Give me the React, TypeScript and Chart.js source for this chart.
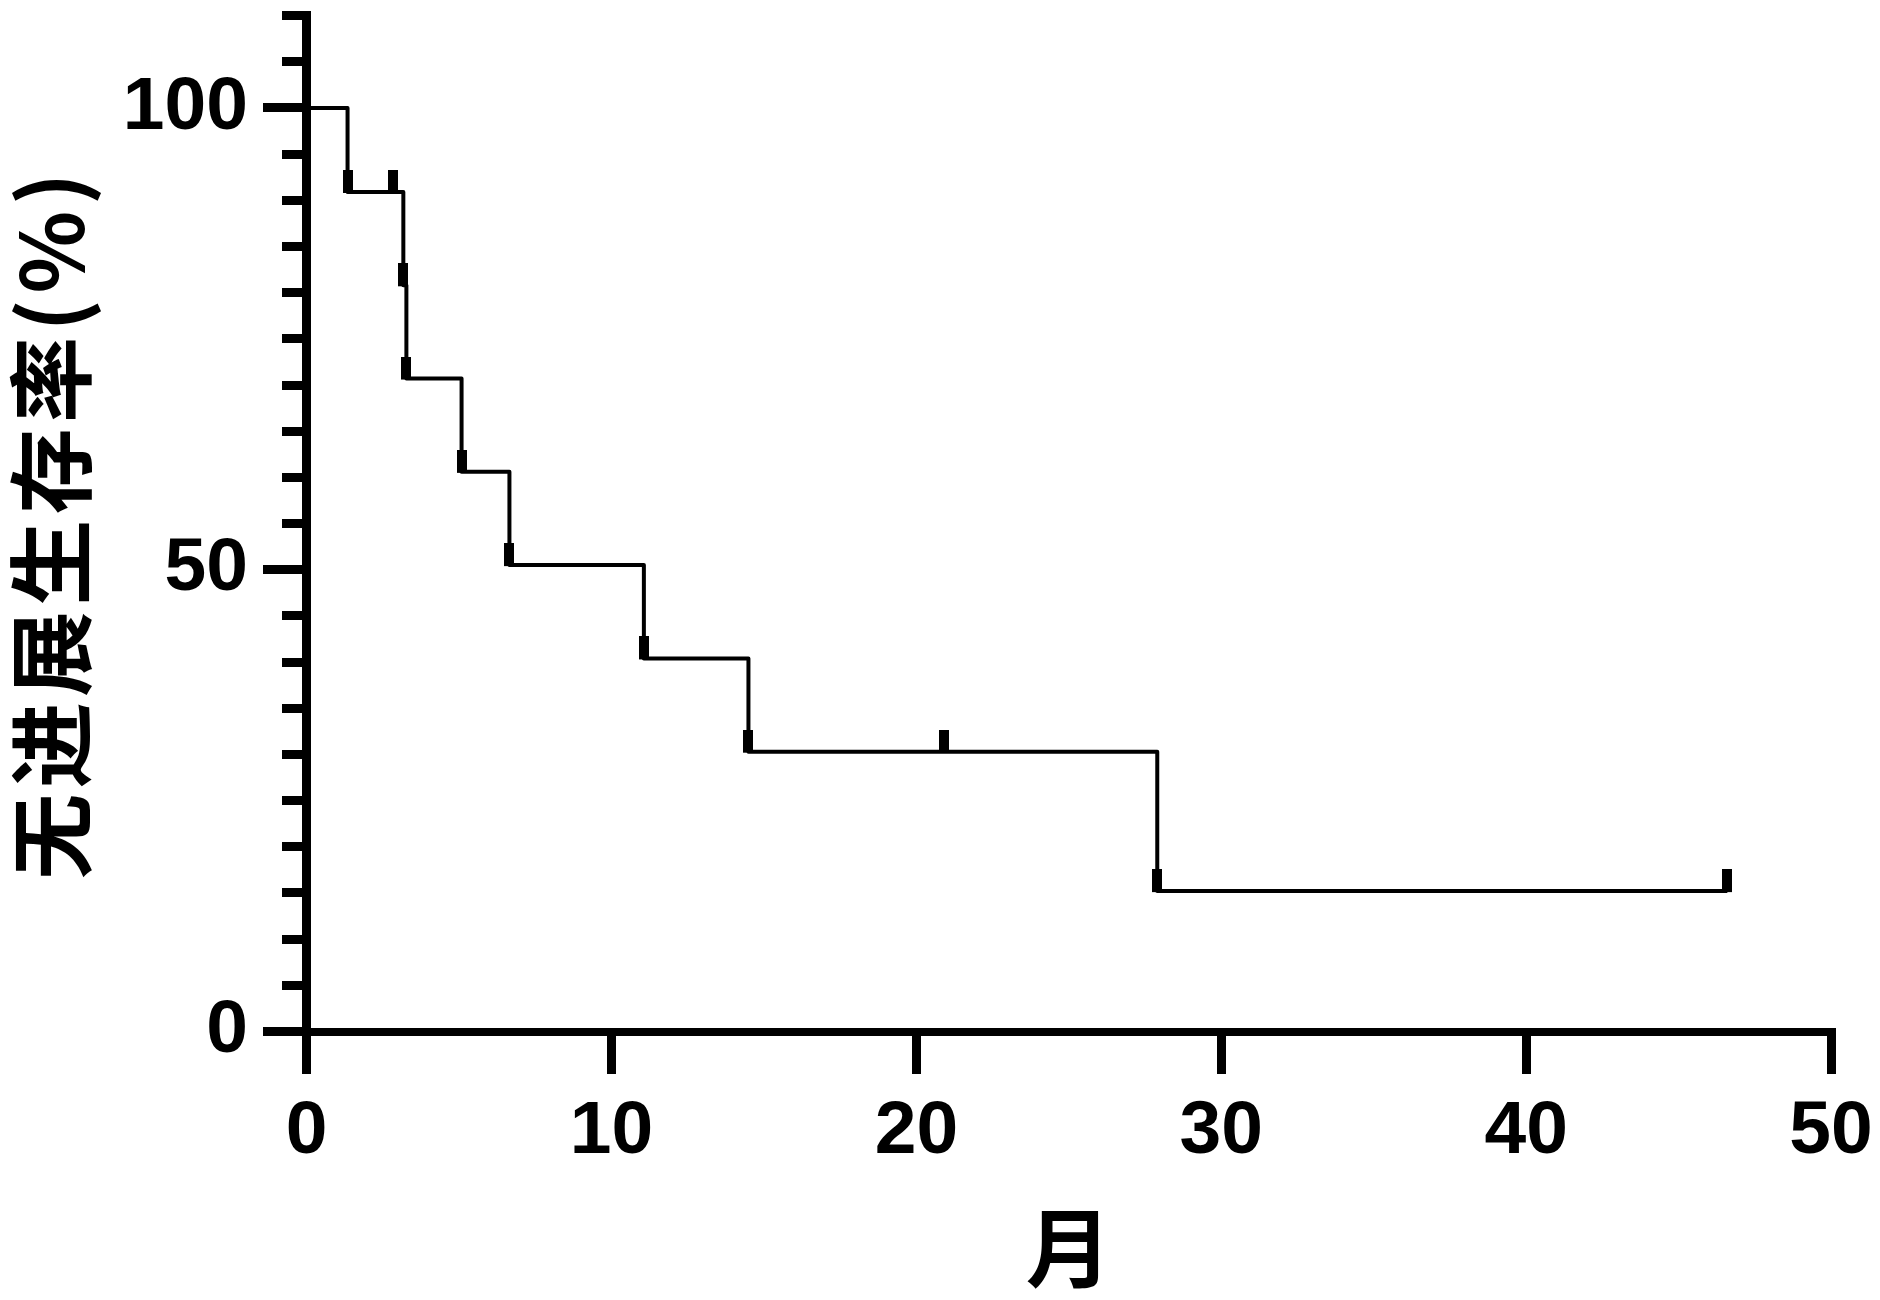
import React, { useEffect, useRef } from "react";
import { Chart, registerables } from "chart.js";

Chart.register(...registerables);

// Kaplan–Meier step curve (months, % progression-free)
const curveTimes = [0, 1.34, 3.17, 3.27, 5.08, 6.65, 11.06, 14.49, 27.9, 46.6];
const curveSurvival = [100, 90.9, 80.8, 70.7, 60.6, 50.5, 40.4, 30.3, 15.2, 15.2];

// tick marks (censor / event markers)
const markTimes = [1.34, 2.83, 3.17, 3.27, 5.08, 6.65, 11.06, 14.49, 20.9, 27.9, 46.6];
const markSurvival = [90.9, 90.9, 80.8, 70.7, 60.6, 50.5, 40.4, 30.3, 30.3, 15.2, 15.2];

const xMin = 0;
const xMax = 50;
const xStep = 10;
const yMin = 0;
const yMax = 110;
const yMajorStep = 50;
const yMinorStep = 5;

const xTitle = "月";
const yTitleChars = ["无", "进", "展", "生", "存", "率", "(", "%", ")"];

const W = 1880;
const H = 1300;

function makeTickMark(): HTMLCanvasElement {
  const c = document.createElement("canvas");
  c.width = 10;
  c.height = 44;
  const ctx = c.getContext("2d")!;
  ctx.fillStyle = "#000";
  ctx.fillRect(0, 0, 10, 23);
  return c;
}

export default function App() {
  const ref = useRef<HTMLCanvasElement | null>(null);

  useEffect(() => {
    if (!ref.current) return;
    const tickFont = { family: "'Liberation Sans', Arial, sans-serif", size: 75, weight: "bold" as const };
    const titleFont = { family: "'Noto Sans CJK SC', sans-serif", size: 86, weight: "bold" as const };
    const mark = makeTickMark();
    const yTitle = yTitleChars.join("\u200A") + "\u200A";

    const chart = new Chart(ref.current, {
      type: "scatter",
      data: {
        datasets: [
          {
            label: "PFS",
            data: curveTimes.map((t, i) => ({ x: t, y: curveSurvival[i] })),
            showLine: true,
            stepped: "before",
            borderColor: "#000",
            borderWidth: 4,
            borderJoinStyle: "round",
            pointRadius: 0,
            fill: false,
            yAxisID: "y",
          },
          {
            label: "marks",
            data: markTimes.map((t, i) => ({ x: t, y: markSurvival[i] })),
            showLine: false,
            pointStyle: mark,
            pointRadius: 5,
            backgroundColor: "#000",
            borderColor: "#000",
            yAxisID: "y",
          },
        ],
      },
      options: {
        responsive: false,
        animation: false,
        events: [],
        layout: { padding: { top: 15.6, right: 49, bottom: 0, left: 0 } },
        plugins: { legend: { display: false }, tooltip: { enabled: false } },
        scales: {
          x: {
            type: "linear",
            position: "bottom",
            min: xMin,
            max: xMax,
            ticks: {
              stepSize: xStep,
              color: "#000",
              font: tickFont,
              padding: 13,
              maxRotation: 0,
            },
            grid: {
              drawOnChartArea: false,
              drawTicks: true,
              tickLength: 42.5,
              tickWidth: 9,
              lineWidth: 9,
              color: "#000",
              tickColor: "#000",
            },
            border: { display: true, color: "#000", width: 8 },
            title: { display: true, text: xTitle, color: "#000", font: titleFont, padding: 0 },
            afterFit: (s: any) => {
              s.height = H - 1031.5;
              s.paddingLeft = 0;
              s.paddingRight = 0;
            },
          },
          y: {
            type: "linear",
            position: "left",
            weight: 1,
            min: yMin,
            max: yMax,
            ticks: {
              stepSize: yMajorStep,
              includeBounds: false,
              color: "#000",
              font: tickFont,
              padding: 15,
            },
            grid: {
              drawOnChartArea: false,
              drawTicks: true,
              tickLength: 43.7,
              tickWidth: 9,
              lineWidth: 9,
              color: "#000",
              tickColor: "#000",
            },
            border: { display: false },
            title: { display: true, text: yTitle, color: "#000", font: titleFont, padding: 0 },
            afterFit: (s: any) => {
              s.width = 306.7;
              s.paddingTop = 0;
              s.paddingBottom = 0;
            },
          },
          yMinor: {
            type: "linear",
            position: "left",
            weight: 0,
            min: yMin,
            max: yMax,
            ticks: { stepSize: yMinorStep, display: false },
            grid: {
              drawOnChartArea: false,
              drawTicks: true,
              tickLength: 24.7,
              tickWidth: 9,
              lineWidth: 9,
              color: "#000",
              tickColor: "#000",
            },
            border: { display: true, color: "#000", width: 9 },
            afterFit: (s: any) => {
              s.width = 0;
              s.paddingTop = 0;
              s.paddingBottom = 0;
            },
          },
        },
      } as any,
    });
    return () => chart.destroy();
  }, []);

  return (
    <div style={{ position: "fixed", left: 0, top: 0, width: W, height: H, background: "#fff" }}>
      <canvas ref={ref} width={W} height={H} style={{ display: "block" }} />
    </div>
  );
}
